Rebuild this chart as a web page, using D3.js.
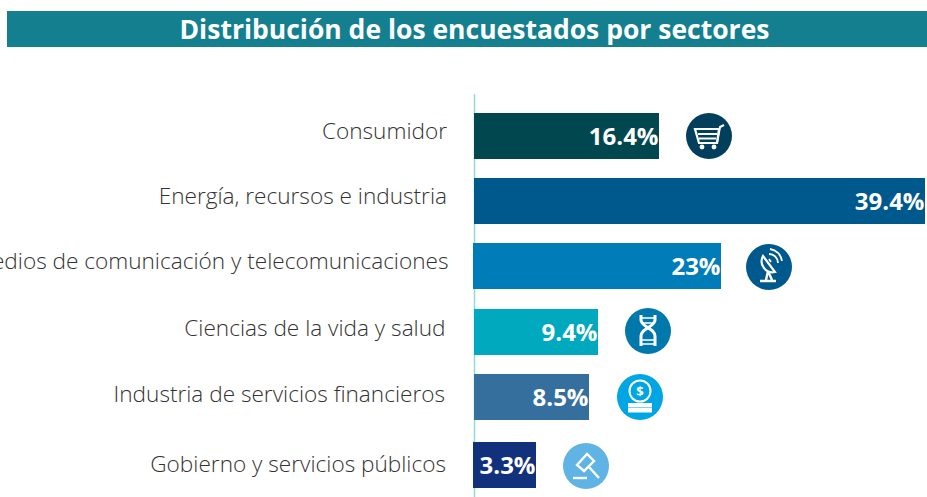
<!DOCTYPE html>
<html><head><meta charset="utf-8">
<script src="https://cdn.jsdelivr.net/npm/d3@7"></script>
<style>html,body{margin:0;padding:0;background:#fff;overflow:hidden}svg{display:block}text{font-family:"Open Sans",sans-serif}</style>
</head><body><div id="c"></div>
<script>
const title = "Distribución de los encuestados por sectores";
const categories = ["Consumidor","Energía, recursos e industria","Medios de comunicación y telecomunicaciones","Ciencias de la vida y salud","Industria de servicios financieros","Gobierno y servicios públicos"];
const values = [16.4,39.4,23,9.4,8.5,3.3];
const valueLabels = ["16.4%","39.4%","23%","9.4%","8.5%","3.3%"];
const barColors = ["#00474f","#00598c","#007db8","#00a9bd","#346f9e","#12317c"];
const iconColors = ["#023f5c",null,"#00598c","#0078ac","#00a5e3","#5fb4e5"];
const icons = ["cart",null,"dish","dna","coin","gavel"];

const W=927,H=497;
const svg=d3.select("#c").append("svg").attr("width",W).attr("height",H);

// The source graphic is not strictly proportional, so the value scale is piecewise.
const x=d3.scaleLinear().domain([0,3.3,8.5,9.4,16.4,23,39.4]).range([474,536,589,598,659,721,925]);
const y=d3.scaleOrdinal().domain(categories).range([113,178,243,309,374,442]);
const barLeft=d3.scaleOrdinal().domain(categories).range([474,474,473,474,474,473]);
const labelY=d3.scaleOrdinal().domain(categories).range([131,196,261,328,394,464]);
const labelX=d3.scaleOrdinal().domain(categories).range([447,447,448.5,445.5,445,446]);
const iconX=d3.scaleOrdinal().domain(categories).range([709,0,769,648,640,586]);
const iconY=d3.scaleOrdinal().domain(categories).range([136,0,267,331,397,466]);
const barH=46;

svg.append("rect").attr("x",7).attr("y",11).attr("width",920).attr("height",36).attr("fill","#14808f");
svg.append("text").attr("x",474.5).attr("y",39).attr("text-anchor","middle").attr("fill","#fff")
  .attr("font-size",26.5).attr("font-weight",700).text(title);

svg.append("line").attr("x1",474.5).attr("x2",474.5).attr("y1",94).attr("y2",H).attr("stroke","#8fdcd6").attr("stroke-width",1.5);

const rows=categories.map((c,i)=>({c,v:values[i],l:valueLabels[i],color:barColors[i],ic:iconColors[i],icon:icons[i]}));

svg.selectAll(".cat").data(rows).join("text").attr("class","cat")
  .attr("x",d=>labelX(d.c)).attr("y",d=>labelY(d.c)).attr("dy","0.35em").attr("text-anchor","end")
  .attr("font-size",22.6).attr("font-weight",300).attr("fill","#333").text(d=>d.c);

svg.selectAll(".bar").data(rows).join("rect").attr("class","bar")
  .attr("x",d=>barLeft(d.c)).attr("y",d=>y(d.c)).attr("width",d=>x(d.v)-barLeft(d.c)).attr("height",barH).attr("fill",d=>d.color);

svg.selectAll(".val").data(rows).join("text").attr("class","val")
  .attr("x",d=>x(d.v)-0.5).attr("y",d=>y(d.c)+barH/2+1).attr("dy","0.35em").attr("text-anchor","end")
  .attr("font-size",24).attr("font-weight",700).attr("fill","#fff").text(d=>d.l);

const glyphs={
 cart:g=>{
  g.append("path").attr("d","M-14,-7 H10 L8,7 H-10 Z M-11,-2 H8 M-10,2.5 H7").attr("fill","none").attr("stroke","#fff").attr("stroke-width",2.2);
  g.append("path").attr("d","M8,7 L11,-9 L15,-11").attr("fill","none").attr("stroke","#fff").attr("stroke-width",2);
  g.append("circle").attr("cx",-7).attr("cy",11).attr("r",2.4).attr("fill","#fff");
  g.append("circle").attr("cx",5).attr("cy",11).attr("r",2.4).attr("fill","#fff");
 },
 dish:g=>{
  g.append("path").attr("d","M-6,-11 A11,11 0 0 0 6,5 Z").attr("fill","none").attr("stroke","#fff").attr("stroke-width",2.2);
  g.append("path").attr("d","M-1,4 L-3,13 M-1,4 L3,13 M-9,14 H7").attr("fill","none").attr("stroke","#fff").attr("stroke-width",2.4);
  g.append("path").attr("d","M0,-13 A9,9 0 0 1 9,-4 M1,-18 A14,14 0 0 1 13,-6 M0,-8 L2,-5").attr("fill","none").attr("stroke","#fff").attr("stroke-width",1.8);
 },
 dna:g=>{
  g.append("path").attr("d","M-7,-16 V-11 C-7,-4 7,-3 7,5 V15 M7,-16 V-11 C7,-4 -7,-3 -7,5 V15").attr("fill","none").attr("stroke","#fff").attr("stroke-width",3);
  g.append("path").attr("d","M-7,-13 H7 M-6,-8 H6 M-6,9 H6 M-6,13 H6").attr("stroke","#fff").attr("stroke-width",1.6);
 },
 coin:g=>{
  g.append("circle").attr("cx",0).attr("cy",-6).attr("r",10.5).attr("fill","none").attr("stroke","#fff").attr("stroke-width",2);
  g.append("text").attr("x",0).attr("y",-6).attr("dy","0.35em").attr("text-anchor","middle").attr("font-size",13).attr("font-weight",700).attr("fill","#fff").text("$");
  g.append("rect").attr("x",-12).attr("y",6).attr("width",24).attr("height",4.5).attr("fill","#fff");
  g.append("rect").attr("x",-12).attr("y",11).attr("width",24).attr("height",4.5).attr("fill","#fff");
 },
 gavel:g=>{
  g.append("path").attr("d","M-9,-1 L1,-12 L8,-5 L-2,5 Z M3,1 L13,12").attr("fill","none").attr("stroke","#fff").attr("stroke-width",2.4);
  g.append("path").attr("d","M-13,12 H1").attr("stroke","#fff").attr("stroke-width",2.4);
 }
};
rows.filter(d=>d.icon).forEach(d=>{
  const g=svg.append("g").attr("transform",`translate(${iconX(d.c)},${iconY(d.c)})`);
  g.append("circle").attr("r",23).attr("fill",d.ic);
  glyphs[d.icon](g);
});
</script></body></html>
